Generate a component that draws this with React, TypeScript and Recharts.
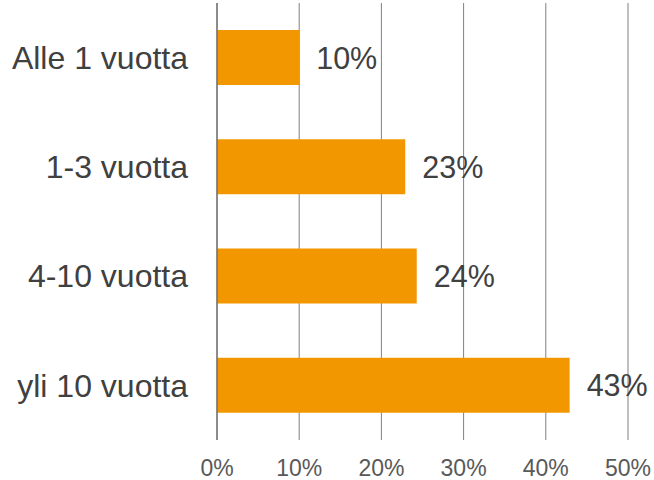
import React from 'react';
import { BarChart, Bar, XAxis, YAxis, CartesianGrid } from 'recharts';

const categories = ['Alle 1 vuotta', '1-3 vuotta', '4-10 vuotta', 'yli 10 vuotta'];
const shares = [10.0, 22.9, 24.3, 42.9];
const xTicks = [0, 10, 20, 30, 40, 50];

const data = categories.map((name, i) => ({ name, value: shares[i] }));

const FONT = '"Liberation Sans", Arial, sans-serif';

const BarValue = (props: any) => {
  const { x, y, width, height, value } = props;
  return (
    <text
      x={Number(x) + Number(width) + 17}
      y={Number(y) + Number(height) / 2}
      dominantBaseline="central"
      fontSize={30.5}
      fill="#404040"
      fontFamily={FONT}
    >
      {`${Math.round(Number(value))}%`}
    </text>
  );
};

const App: React.FC = () => {
  return (
    <div style={{ position: 'absolute', left: 0, top: 0, width: 654, height: 480, background: '#fff' }}>
      <BarChart
        width={654}
        height={480}
        data={data}
        layout="vertical"
        margin={{ top: 3, right: 26, left: 0, bottom: 0 }}
      >
        <CartesianGrid horizontal={false} stroke="#808080" strokeWidth={1} />
        <XAxis
          type="number"
          dataKey="value"
          domain={[0, 50]}
          ticks={xTicks}
          tickFormatter={(v) => `${v}%`}
          axisLine={false}
          tickLine={false}
          tickMargin={14}
          height={40}
          tick={{ fontSize: 23, fill: '#595959', fontFamily: FONT }}
        />
        <YAxis
          type="category"
          dataKey="name"
          width={217}
          axisLine={{ stroke: '#595959' }}
          tickLine={false}
          tickMargin={23}
          tick={{ fontSize: 32, fill: '#404040', fontFamily: FONT }}
        />
        <Bar
          dataKey="value"
          fill="#F39700"
          barSize={55}
          isAnimationActive={false}
          label={<BarValue />}
        />
      </BarChart>
    </div>
  );
};

export default App;
